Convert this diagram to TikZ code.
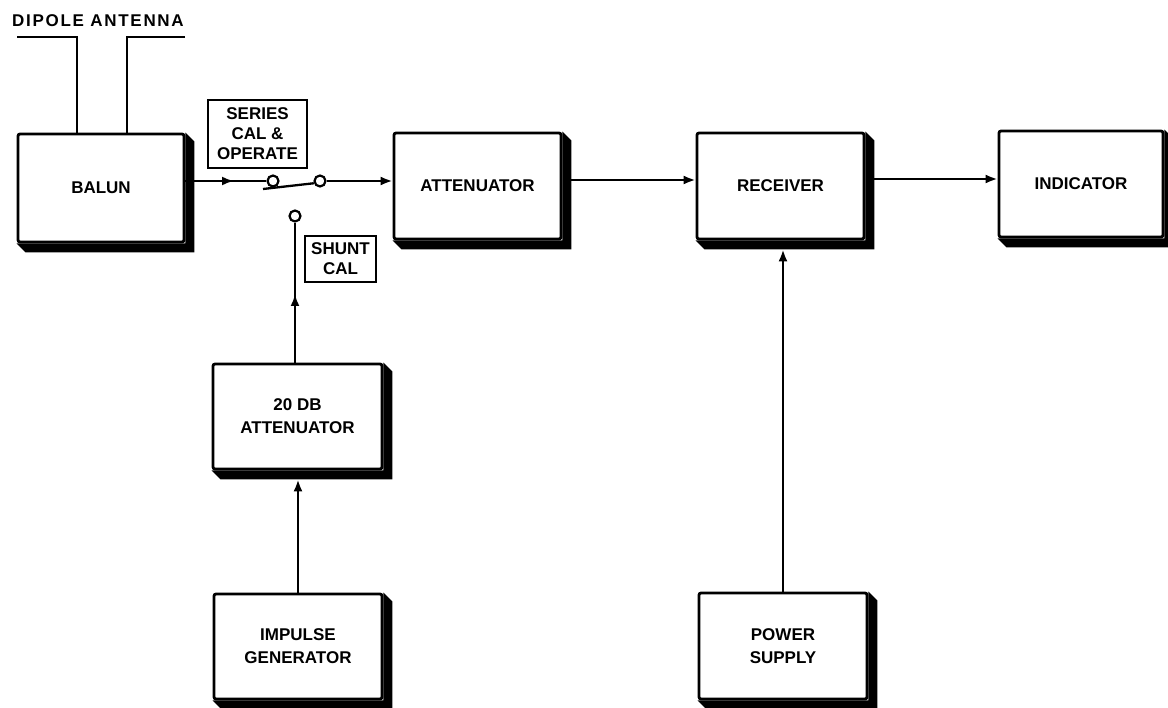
\documentclass[tikz,border=0pt]{standalone}
\usepackage{fontspec}
\setmainfont{Liberation Sans}
\newfontfamily\spacedfont[LetterSpace=10]{Liberation Sans}
\usetikzlibrary{arrows.meta,decorations.markings,calc}
\begin{document}
\begin{tikzpicture}[x=1pt,y=-1pt,
  txt/.style={font=\bfseries\fontsize{17}{23}\selectfont},
  blk/.style={draw, line width=2.8pt, rounded corners=2pt, align=center, inner sep=0pt, txt},
  lbl/.style={draw, line width=2.2pt, align=center, inner sep=0pt, font=\bfseries\fontsize{17}{20}\selectfont},
  wire/.style={line width=2.3pt},
  tip/.style={-{Latex[length=12pt,width=9pt]}},
  midtip/.style={postaction={decorate},decoration={markings,mark=at position #1 with {\arrow{Latex[length=12pt,width=9pt]}}}},
  contact/.style={circle, draw, line width=2.2pt, fill=white, minimum size=11pt, inner sep=0pt},
  ]
\useasboundingbox (0,0) rectangle (1168,708);

% blocks
\node[blk, minimum width=166pt, minimum height=108pt] (balun) at (101,188) {BALUN};
\node[blk, minimum width=167pt, minimum height=106pt] (att) at (477.5,186) {ATTENUATOR};
\node[blk, minimum width=167pt, minimum height=106pt] (rec) at (780.5,186) {RECEIVER};
\node[blk, minimum width=164pt, minimum height=106pt] (ind) at (1081,184) {INDICATOR};
\node[blk, minimum width=169pt, minimum height=105pt] (db20) at (297.5,416.5) {20 DB\\ATTENUATOR};
\node[blk, minimum width=168pt, minimum height=105pt] (imp) at (298,646.5) {IMPULSE\\GENERATOR};
\node[blk, minimum width=168pt, minimum height=106pt] (pow) at (783,646) {POWER\\SUPPLY};

% shadows
\foreach \n in {balun,att,rec,ind,db20,imp,pow}{
  \fill (\n.north east) -- ($(\n.north east)+(9,9)$) -- ($(\n.south east)+(9,9)$)
        -- ($(\n.south west)+(9,9)$) -- (\n.south west) -- (\n.south east) -- cycle;
}

% antenna
\node[font=\spacedfont\bfseries\fontsize{17}{20}\selectfont] (dip) at (98,21) {DIPOLE ANTENNA};
\coordinate (a1) at (17,37);
\coordinate (a2) at (185,37);
\draw[wire] (a1) -| ([xshift=-24pt]balun.north);
\draw[wire] (a2) -| ([xshift=26pt]balun.north);

% labels
\node[lbl, minimum width=99pt, minimum height=68pt] (ser) at (257.5,134) {SERIES\\CAL \&\\OPERATE};
\node[lbl, minimum width=71pt, minimum height=46pt] (shu) at (340.5,259) {SHUNT\\CAL};

% switch
\node[contact] (c1) at (273,181) {};
\node[contact] (c2) at (320,181) {};
\node[contact] (c3) at (295,216) {};
\coordinate (bl) at (263,189);
\draw[wire] (bl) -- (c2.200);

% connectors
\draw[wire, midtip=0.6] (balun.east |- c1) -- (c1.west);
\draw[wire, tip] (c2.east) -- (att.west |- c2);
\coordinate (m1) at ([xshift=9pt,yshift=6pt]att.east);
\draw[wire, tip] (m1) -- (rec.west |- m1);
\coordinate (r1) at ([xshift=9pt,yshift=7pt]rec.east);
\draw[wire, tip] (r1) -- (ind.west |- r1);
\draw[wire, midtip=0.49] (db20.north -| c3) -- (c3.south);
\coordinate (d1) at ([yshift=-9pt]db20.south);
\draw[wire, tip] (imp.north) -- (imp.north |- d1);
\coordinate (r2) at ([yshift=-9pt]rec.south);
\draw[wire, tip] (pow.north) -- (pow.north |- r2);
\end{tikzpicture}
\end{document}
